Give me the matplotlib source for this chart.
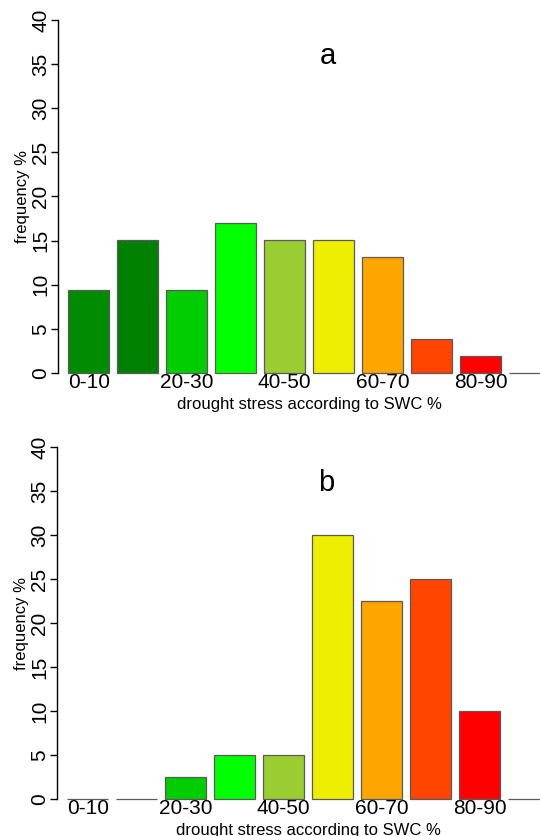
"""
Two stacked bar charts: frequency of drought stress classes (SWC %).
"""
import matplotlib
matplotlib.use("Agg")
import matplotlib.pyplot as plt
import numpy as np

# Data ------------------------------------------------------------------------

classes = ["0-10", "10-20", "20-30", "30-40", "40-50",
           "50-60", "60-70", "70-80", "80-90", "90-100"]
shown_labels = ["0-10", "20-30", "40-50", "60-70", "80-90"]

freq_a = [9.4, 15.1, 9.4, 17.0, 15.1, 15.1, 13.2, 3.8, 1.9, 0.0]
freq_b = [0.0, 0.0, 2.5, 5.0, 5.0, 30.0, 22.5, 25.0, 10.0, 0.0]

bar_colors = ["#008B00", "#008000", "#00CD00", "#00FF00", "#9ACD32",
              "#EEEE00", "#FFA500", "#FF4500", "#FF0000", "#FF0000"]

panel_letters = ["a", "b"]

# Plot ------------------------------------------------------------------------

plt.rcParams["font.family"] = ["Liberation Sans", "DejaVu Sans"]

W, H = 540, 836
fig = plt.figure(figsize=(W / 100, H / 100), dpi=100)

# R-like barplot positions: width 1, space 0.2
centers = 0.7 + 1.2 * np.arange(len(classes))

# (axis x px, zero y px, top y px)
panel_px = [(58, 373, 20), (57, 799, 447)]

for freq, letter, (x0, y0, y40) in zip([freq_a, freq_b], panel_letters,
                                       panel_px):
    ax = fig.add_axes([x0 / W, (H - y0) / H, (W - x0) / W, (y0 - y40) / H])
    ax.bar(centers, freq, width=1.0, color=bar_colors,
           edgecolor="#5a5a5a", linewidth=0.9, clip_on=False)
    ax.set_xlim(-0.056, -0.056 + (W - x0) / 40.8)
    ax.set_ylim(0, 40)

    for side in ["top", "right", "bottom"]:
        ax.spines[side].set_visible(False)
    ax.spines["left"].set_linewidth(1.0)

    ax.set_yticks(np.arange(0, 41, 5))
    ax.tick_params(axis="y", length=5, width=1.0, labelsize=15, pad=0.5)
    for lab in ax.get_yticklabels():
        lab.set_rotation(90)
        lab.set_va("center")

    ax.set_xticks(centers[::2])
    ax.set_xticklabels(shown_labels)
    ax.tick_params(axis="x", length=0, labelsize=15, pad=0)

    ax.set_ylabel("frequency %", fontsize=12)
    ax.yaxis.set_label_coords(-0.059, 0.5)
    ax.set_xlabel("drought stress according to SWC %", fontsize=12)
    ax.xaxis.set_label_coords(6.1, -0.068,
                              transform=ax.get_xaxis_transform())

    ax.text(6.55, 35, letter, fontsize=21, ha="center", va="baseline")

fig.savefig("out.png", dpi=100)
